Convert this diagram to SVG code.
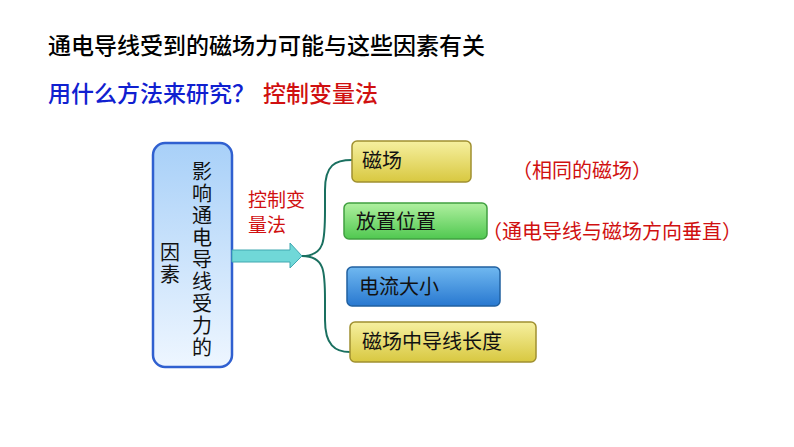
<svg xmlns="http://www.w3.org/2000/svg" width="794" height="447" viewBox="0 0 794 447">
<defs>
<style>
text{font-family:"Noto Sans CJK SC","Noto Sans",sans-serif}
.t{font-size:20px;fill:#111}
.v{font-size:20px;fill:#111;writing-mode:vertical-rl;letter-spacing:2px}
.r{font-size:20px;fill:#d01010}
.box{stroke-width:1.5}
</style>
<linearGradient id="gy" x1="0" y1="0" x2="0" y2="1"><stop offset="0" stop-color="#f6f0a0"/><stop offset="1" stop-color="#d8c840"/></linearGradient>
<linearGradient id="gg" x1="0" y1="0" x2="0" y2="1"><stop offset="0" stop-color="#b0f0a0"/><stop offset="1" stop-color="#50c850"/></linearGradient>
<linearGradient id="gb" x1="0" y1="0" x2="0" y2="1"><stop offset="0" stop-color="#70b8f0"/><stop offset="1" stop-color="#2878d0"/></linearGradient>
<linearGradient id="gl" x1="0" y1="0" x2="0" y2="1"><stop offset="0" stop-color="#a8d0f8"/><stop offset="1" stop-color="#eef6ff"/></linearGradient>
</defs>
<text x="48" y="54" style="font-size:23px;font-weight:500;fill:#000">通电导线受到的磁场力可能与这些因素有关</text>
<text x="48" y="102" style="font-size:23px;font-weight:500;fill:#1020d0">用什么方法来研究？</text>
<text x="263" y="102" style="font-size:23px;font-weight:500;fill:#d01010">控制变量法</text>
<g id="factors">
<rect x="153" y="143" width="79" height="224" rx="12" fill="url(#gl)" stroke="#3060d0" stroke-width="2.5"/>
<text class="v" x="202" y="161">影响通电导线受力的</text>
<text class="v" x="170" y="242">因素</text>
</g>
<g id="connectors">
<polygon points="232,250 290,250 290,243 302,256 290,268 290,262 232,262" fill="#70d8d8" stroke="#40a8b0" stroke-width="1"/>
<path d="M302,256 C325,256 325,240 325,210 L325,190 C325,165 335,160 352,160 M302,256 C325,256 325,272 325,300 L325,320 C325,345 335,352 350,352" fill="none" stroke="#1a7060" stroke-width="2"/>
</g>
<text class="r" style="font-size:19px" x="248" y="207">控制变</text>
<text class="r" style="font-size:19px" x="248" y="232">量法</text>
<g id="n1"><rect class="box" x="352" y="141" width="119" height="41" rx="5" fill="url(#gy)" stroke="#a09030"/><text class="t" x="362" y="168">磁场</text></g>
<g id="n2"><rect class="box" x="344" y="203" width="143" height="36" rx="5" fill="url(#gg)" stroke="#40a040"/><text class="t" x="356" y="229">放置位置</text></g>
<g id="n3"><rect class="box" x="347" y="267" width="153" height="39" rx="5" fill="url(#gb)" stroke="#2060a0"/><text class="t" x="359" y="294">电流大小</text></g>
<g id="n4"><rect class="box" x="350" y="322" width="186" height="40" rx="5" fill="url(#gy)" stroke="#a09030"/><text class="t" x="362" y="349">磁场中导线长度</text></g>
<text class="r" x="512" y="178">（相同的磁场）</text>
<text class="r" x="482" y="239">（通电导线与磁场方向垂直）</text>
</svg>
